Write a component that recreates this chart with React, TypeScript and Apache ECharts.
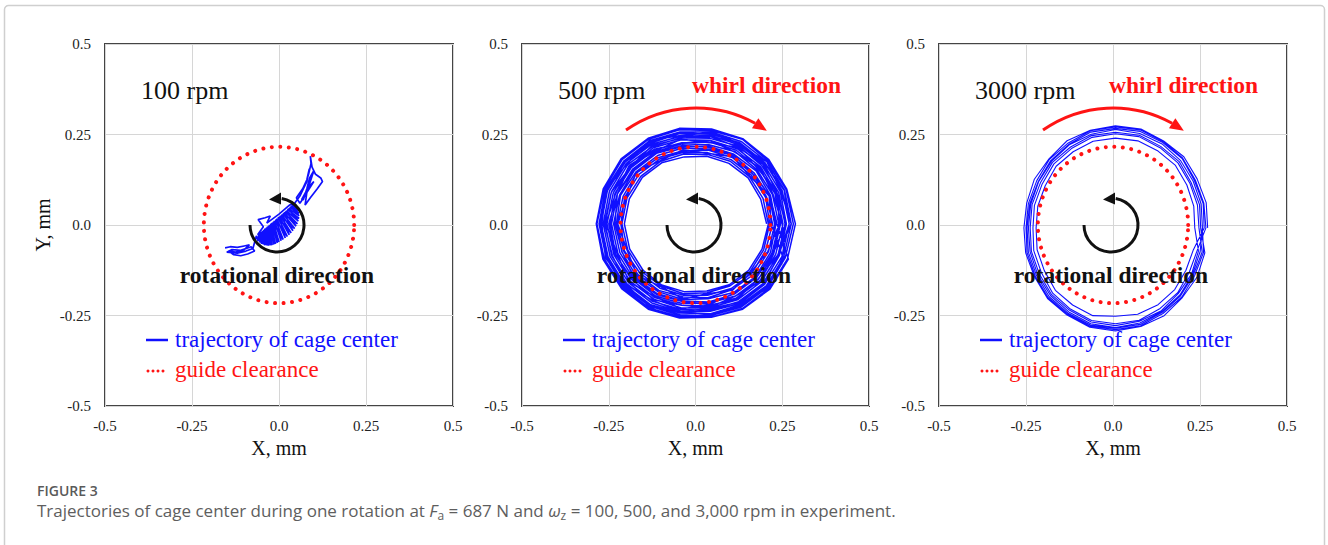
import React, { useEffect, useRef } from 'react';
import * as echarts from 'echarts';

// ---------------- data ----------------
const AXIS_TICKS = [-0.5, -0.25, 0, 0.25, 0.5];
const SPEED_LABELS = ['100 rpm', '500 rpm', '3000 rpm'];
const CLEARANCE_RADIUS = 0.216; // guide clearance, mm

// 100 rpm: trajectory of cage center, [x, y] in mm
const TRAJ_100_TAIL: number[][] = [
  [-0.155, -0.063], [-0.14, -0.06], [-0.12, -0.062], [-0.1, -0.058], [-0.085, -0.055],
  [-0.1, -0.068], [-0.125, -0.075], [-0.145, -0.072], [-0.13, -0.082], [-0.11, -0.085],
  [-0.09, -0.08], [-0.07, -0.072], [-0.08, -0.06], [-0.11, -0.07], [-0.135, -0.068],
  [-0.15, -0.075], [-0.12, -0.078], [-0.095, -0.072], [-0.075, -0.065], [-0.065, -0.03],
];
const TRAJ_100_BODY: number[][] = [
  [-0.065, -0.03], [-0.06, -0.045], [-0.058, -0.024], [-0.05, -0.052], [-0.051, -0.019],
  [-0.04, -0.056], [-0.044, -0.013], [-0.03, -0.057], [-0.037, -0.0075], [-0.02, -0.056],
  [-0.031, -0.002], [-0.01, -0.052], [-0.024, 0.004], [0.0, -0.047], [-0.017, 0.009],
  [0.012, -0.04], [-0.01, 0.015], [0.024, -0.032], [-0.003, 0.021], [0.035, -0.022],
  [0.004, 0.026], [0.045, -0.01], [0.011, 0.032], [0.053, 0.003], [0.018, 0.0375],
  [0.058, 0.018], [0.024, 0.043], [0.058, 0.033], [0.031, 0.049], [0.052, 0.048],
  [0.038, 0.054], [0.045, 0.06],
  [0.055, 0.0405], [0.0345, 0.0515], [0.058, 0.0255], [0.0275, 0.046], [0.0555, 0.0105],
  [0.021, 0.04], [0.049, -0.0035], [0.0145, 0.035], [0.04, -0.016], [0.0075, 0.029],
  [0.0295, -0.027], [0.0005, 0.0235], [0.018, -0.036], [-0.0065, 0.018], [0.006, -0.0435],
  [-0.0135, 0.012], [-0.005, -0.0495], [-0.0205, 0.0065], [-0.015, -0.054], [-0.0275, 0.001],
  [-0.025, -0.0565], [-0.034, -0.005], [-0.035, -0.0565], [-0.0405, -0.01], [-0.045, -0.054],
  [-0.0475, -0.016], [-0.055, -0.0485], [-0.0545, -0.0215], [-0.0615, -0.027],
  [-0.045, -0.005], [-0.06, 0.015], [-0.04, 0.02], [-0.025, 0.025], [-0.035, 0.005],
  [0.0, 0.03], [0.03, 0.055],
];
const TRAJ_100_ARM: number[][] = [
  [0.045, 0.06], [0.06, 0.08], [0.075, 0.11], [0.085, 0.14], [0.092, 0.17], [0.09, 0.19],
  [0.095, 0.16], [0.105, 0.14], [0.12, 0.13], [0.125, 0.12], [0.11, 0.1], [0.09, 0.075],
  [0.075, 0.055], [0.08, 0.09], [0.1, 0.12], [0.085, 0.105], [0.065, 0.07], [0.07, 0.07],
  [0.08, 0.1], [0.088, 0.13], [0.1, 0.15], [0.09, 0.12], [0.078, 0.085], [0.06, 0.06],
  [0.05, 0.075], [0.068, 0.1], [0.08, 0.125], [0.087, 0.155], [0.08, 0.12], [0.065, 0.09],
];

// 500 rpm: loops read as radius (mm) at fixed polar angles (deg) around the loop centre
const ANGLES_500 = [0, 20, 40, 60, 80, 100, 120, 140, 160, 180, 200, 220, 240, 260, 280, 300, 320, 340];
const CENTER_500 = [0.0, 0.003];
const LOOPS_500: number[][] = [
  [0.205, 0.2, 0.198, 0.193, 0.19, 0.188, 0.195, 0.2, 0.203, 0.205, 0.202, 0.198, 0.195, 0.19, 0.188, 0.194, 0.2, 0.204],
  [0.21, 0.207, 0.203, 0.2, 0.195, 0.196, 0.2, 0.205, 0.21, 0.212, 0.208, 0.204, 0.198, 0.196, 0.193, 0.198, 0.205, 0.209],
  [0.214, 0.215, 0.21, 0.205, 0.2, 0.201, 0.207, 0.213, 0.217, 0.215, 0.218, 0.21, 0.205, 0.2, 0.2, 0.206, 0.212, 0.215],
  [0.222, 0.218, 0.215, 0.212, 0.207, 0.205, 0.212, 0.22, 0.222, 0.225, 0.22, 0.217, 0.212, 0.205, 0.207, 0.21, 0.218, 0.224],
  [0.228, 0.226, 0.22, 0.218, 0.21, 0.213, 0.218, 0.224, 0.23, 0.228, 0.226, 0.223, 0.216, 0.212, 0.21, 0.219, 0.226, 0.23],
  [0.232, 0.23, 0.228, 0.222, 0.218, 0.217, 0.225, 0.23, 0.233, 0.236, 0.232, 0.228, 0.222, 0.216, 0.219, 0.224, 0.23, 0.235],
  [0.24, 0.236, 0.232, 0.23, 0.222, 0.225, 0.23, 0.236, 0.24, 0.242, 0.238, 0.234, 0.23, 0.223, 0.222, 0.23, 0.237, 0.24],
  [0.245, 0.244, 0.238, 0.235, 0.23, 0.228, 0.236, 0.242, 0.247, 0.246, 0.245, 0.24, 0.235, 0.228, 0.23, 0.236, 0.243, 0.246],
  [0.252, 0.248, 0.245, 0.24, 0.235, 0.236, 0.243, 0.247, 0.252, 0.255, 0.25, 0.246, 0.24, 0.236, 0.235, 0.242, 0.248, 0.253],
  [0.258, 0.255, 0.25, 0.248, 0.24, 0.242, 0.247, 0.255, 0.258, 0.26, 0.257, 0.252, 0.247, 0.24, 0.242, 0.248, 0.255, 0.257],
  [0.262, 0.26, 0.257, 0.252, 0.248, 0.246, 0.254, 0.26, 0.264, 0.266, 0.262, 0.258, 0.252, 0.247, 0.245, 0.254, 0.26, 0.265],
  [0.27, 0.266, 0.262, 0.258, 0.252, 0.254, 0.258, 0.265, 0.27, 0.272, 0.268, 0.264, 0.258, 0.25, 0.252, 0.258, 0.266, 0.27],
  [0.276, 0.273, 0.268, 0.263, 0.258, 0.258, 0.265, 0.27, 0.276, 0.278, 0.274, 0.27, 0.263, 0.256, 0.257, 0.265, 0.272, 0.275],
  [0.282, 0.278, 0.272, 0.27, 0.262, 0.264, 0.27, 0.276, 0.28, 0.284, 0.28, 0.274, 0.268, 0.26, 0.262, 0.27, 0.277, 0.282],
  [0.288, 0.28, 0.276, 0.272, 0.266, 0.268, 0.273, 0.28, 0.283, 0.286, 0.284, 0.278, 0.272, 0.264, 0.262, 0.272, 0.28, 0.285],
  [0.235, 0.228, 0.215, 0.22, 0.215, 0.22, 0.226, 0.232, 0.24, 0.232, 0.225, 0.232, 0.225, 0.218, 0.226, 0.222, 0.23, 0.238],
  [0.26, 0.25, 0.255, 0.245, 0.245, 0.24, 0.25, 0.245, 0.258, 0.262, 0.255, 0.26, 0.245, 0.245, 0.238, 0.25, 0.258, 0.255],
  [0.27, 0.272, 0.26, 0.255, 0.26, 0.255, 0.262, 0.268, 0.272, 0.275, 0.27, 0.268, 0.26, 0.255, 0.258, 0.262, 0.27, 0.272],
  [0.25, 0.238, 0.242, 0.228, 0.235, 0.226, 0.238, 0.25, 0.245, 0.258, 0.24, 0.25, 0.232, 0.238, 0.228, 0.24, 0.236, 0.252],
  [0.276, 0.262, 0.268, 0.25, 0.256, 0.248, 0.266, 0.258, 0.274, 0.27, 0.276, 0.26, 0.265, 0.248, 0.254, 0.258, 0.274, 0.268],
  [0.218, 0.226, 0.205, 0.214, 0.198, 0.208, 0.202, 0.222, 0.212, 0.224, 0.21, 0.22, 0.2, 0.21, 0.196, 0.212, 0.208, 0.222],
  [0.242, 0.25, 0.236, 0.244, 0.228, 0.238, 0.232, 0.248, 0.24, 0.25, 0.246, 0.238, 0.242, 0.228, 0.234, 0.23, 0.246, 0.24],
];

// 3000 rpm: loops read as radius (mm) at fixed polar angles (deg)
const ANGLES_3000 = [0, 15, 30, 45, 60, 75, 90, 105, 120, 135, 150, 165, 180, 195, 210, 225, 240, 255, 270, 285, 300, 315, 330, 345];
const CENTER_3000 = [0.007, -0.008];
const LOOPS_3000: number[][] = [
  [0.265, 0.27, 0.271, 0.278, 0.277, 0.283, 0.282, 0.279, 0.278, 0.27, 0.269, 0.264, 0.263, 0.267, 0.269, 0.276, 0.278, 0.284, 0.285, 0.282, 0.28, 0.272, 0.271, 0.266],
  [0.245, 0.25, 0.251, 0.259, 0.26, 0.265, 0.264, 0.264, 0.258, 0.256, 0.249, 0.248, 0.245, 0.25, 0.253, 0.26, 0.263, 0.269, 0.27, 0.267, 0.264, 0.256, 0.253, 0.247],
  [0.228, 0.233, 0.237, 0.244, 0.245, 0.249, 0.248, 0.248, 0.243, 0.241, 0.233, 0.231, 0.228, 0.233, 0.236, 0.244, 0.246, 0.251, 0.244, 0.247, 0.245, 0.241, 0.234, 0.232],
  [0.255, 0.261, 0.262, 0.271, 0.272, 0.276, 0.275, 0.274, 0.267, 0.263, 0.256, 0.255, 0.254, 0.259, 0.262, 0.269, 0.272, 0.278, 0.277, 0.276, 0.269, 0.265, 0.259, 0.258],
  [0.24, 0.244, 0.247, 0.254, 0.256, 0.261, 0.26, 0.259, 0.253, 0.25, 0.243, 0.241, 0.237, 0.243, 0.246, 0.255, 0.259, 0.265, 0.265, 0.264, 0.257, 0.253, 0.245, 0.243],
  [0.26, 0.263, 0.265, 0.273, 0.275, 0.28, 0.279, 0.278, 0.271, 0.268, 0.261, 0.259, 0.257, 0.263, 0.266, 0.273, 0.275, 0.281, 0.281, 0.28, 0.273, 0.27, 0.263, 0.262],
  [0.25, 0.255, 0.258, 0.264, 0.268, 0.27, 0.272, 0.268, 0.265, 0.26, 0.255, 0.252, 0.25, 0.254, 0.258, 0.264, 0.268, 0.274, 0.275, 0.272, 0.267, 0.262, 0.256, 0.252],
];

// ---------------- helpers ----------------
const SERIF = '"Liberation Serif", "Times New Roman", Times, serif';
const SANS = '"Open Sans", "Noto Sans", Lato, sans-serif';
const BLUE = '#1010ff';
const RED = '#ff1414';

function loopsToPoints(angles: number[], loops: number[][], center: number[]): number[][] {
  const pts: number[][] = [];
  loops.forEach((radii) => {
    radii.forEach((r, k) => {
      const a = (angles[k] * Math.PI) / 180;
      pts.push([center[0] + r * Math.cos(a), center[1] + r * Math.sin(a)]);
    });
  });
  const last = loops[loops.length - 1];
  pts.push([center[0] + last[0], center[1]]);
  return pts;
}

function clearanceCircle(): number[][] {
  const pts: number[][] = [];
  for (let d = 0; d <= 360; d += 2) {
    const a = (d * Math.PI) / 180;
    pts.push([CLEARANCE_RADIUS * Math.cos(a), CLEARANCE_RADIUS * Math.sin(a)]);
  }
  return pts;
}

const GRIDS = [
  { left: 105, top: 44, width: 348, height: 362 },
  { left: 522, top: 44, width: 347, height: 362 },
  { left: 939, top: 44, width: 348, height: 362 },
];

const deg = (d: number) => (d * Math.PI) / 180;

function panelGraphics(i: number): any[] {
  const L = GRIDS[i].left;
  const items: any[] = [];
  items.push({
    type: 'text', x: L + 36, y: 90, z: 100,
    style: { text: SPEED_LABELS[i], font: `26px ${SERIF}`, fill: '#111', verticalAlign: 'middle' },
  });
  if (i > 0) {
    items.push({
      type: 'text', x: L + 170, y: 85, z: 100,
      style: { text: 'whirl direction', font: `bold 23.5px ${SERIF}`, fill: RED, verticalAlign: 'middle' },
    });
    const rcx = L + 174, rcy = 230, rr = 122;
    items.push({
      type: 'arc', z: 100,
      shape: { cx: rcx, cy: rcy, r: rr, startAngle: deg(235), endAngle: deg(299), clockwise: true },
      style: { stroke: RED, lineWidth: 3, fill: null },
    });
    const tip = [rcx + rr * Math.cos(deg(305.5)), rcy + rr * Math.sin(deg(305.5))];
    const base = [rcx + rr * Math.cos(deg(299)), rcy + rr * Math.sin(deg(299))];
    const tx = tip[0] - base[0], ty = tip[1] - base[1];
    const len = Math.hypot(tx, ty);
    const nx = -ty / len, ny = tx / len;
    items.push({
      type: 'polygon', z: 100,
      shape: { points: [tip, [base[0] + 6 * nx, base[1] + 6 * ny], [base[0] - 6 * nx, base[1] - 6 * ny]] },
      style: { fill: RED },
    });
  }
  // rotational direction arrow
  const cx = L + 172, cy = 225;
  items.push({
    type: 'arc', z: 100,
    shape: { cx, cy, r: 27, startAngle: deg(280), endAngle: deg(540), clockwise: true },
    style: { stroke: '#111', lineWidth: 3, fill: null },
  });
  items.push({
    type: 'polygon', z: 100,
    shape: { points: [[cx - 8, cy - 25.5], [cx + 4, cy - 32.5], [cx + 4, cy - 20.5]] },
    style: { fill: '#111' },
  });
  items.push({
    type: 'text', x: L + 172, y: 275, z: 100,
    style: { text: 'rotational direction', font: `bold 23.5px ${SERIF}`, fill: '#111', align: 'center', verticalAlign: 'middle' },
  });
  // legend
  items.push({
    type: 'line', z: 100,
    shape: { x1: L + 41, y1: 340, x2: L + 63, y2: 340 },
    style: { stroke: BLUE, lineWidth: 2.5 },
  });
  items.push({
    type: 'text', x: L + 70, y: 339, z: 100,
    style: { text: 'trajectory of cage center', font: `23px ${SERIF}`, fill: BLUE, verticalAlign: 'middle' },
  });
  [0, 5, 10, 15].forEach((dx) => {
    items.push({ type: 'circle', z: 100, shape: { cx: L + 43 + dx, cy: 371, r: 1.5 }, style: { fill: RED } });
  });
  items.push({
    type: 'text', x: L + 70, y: 369, z: 100,
    style: { text: 'guide clearance', font: `23px ${SERIF}`, fill: RED, verticalAlign: 'middle' },
  });
  return items;
}

export default function App() {
  const ref = useRef<HTMLDivElement>(null);
  useEffect(() => {
    if (!ref.current) return;
    const chart = echarts.init(ref.current, null, { renderer: 'svg' });
    const trajectories = [
      [...TRAJ_100_TAIL, ...TRAJ_100_BODY, ...TRAJ_100_ARM],
      loopsToPoints(ANGLES_500, LOOPS_500, CENTER_500),
      loopsToPoints(ANGLES_3000, LOOPS_3000, CENTER_3000),
    ];
    const circle = clearanceCircle();
    const fmt = (v: number) => (v === 0 ? '0.0' : String(v));
    const axisLabel = { fontFamily: 'Liberation Serif', fontSize: 15, color: '#222' };
    const splitLine = { show: true, lineStyle: { color: '#d6d6d6', width: 1 } };

    const option: any = {
      animation: false,
      backgroundColor: '#fff',
      grid: GRIDS.map((g) => ({ ...g, show: true, borderColor: '#444', borderWidth: 2, backgroundColor: 'transparent' })),
      xAxis: GRIDS.map((_, i) => ({
        type: 'value', gridIndex: i, min: AXIS_TICKS[0], max: AXIS_TICKS[AXIS_TICKS.length - 1], interval: 0.25,
        axisLine: { show: false }, axisTick: { show: false }, splitLine,
        axisLabel: { ...axisLabel, margin: 12, formatter: fmt },
        name: 'X, mm', nameLocation: 'middle', nameGap: 25,
        nameTextStyle: { fontFamily: 'Liberation Serif', fontSize: 20, color: '#111' },
      })),
      yAxis: GRIDS.map((_, i) => ({
        type: 'value', gridIndex: i, min: AXIS_TICKS[0], max: AXIS_TICKS[AXIS_TICKS.length - 1], interval: 0.25,
        axisLine: { show: false }, axisTick: { show: false }, splitLine,
        axisLabel: { ...axisLabel, margin: 14, formatter: fmt },
        name: i === 0 ? 'Y, mm' : '', nameLocation: 'middle', nameGap: 52,
        nameTextStyle: { fontFamily: 'Liberation Serif', fontSize: 20, color: '#111' },
      })),
      series: [
        ...trajectories.map((data, i) => ({
          type: 'line', name: 'trajectory of cage center', xAxisIndex: i, yAxisIndex: i,
          data, showSymbol: false, smooth: false, z: 2,
          lineStyle: { color: BLUE, width: i === 0 ? 1.7 : i === 1 ? 1.5 : 1.1 },
        })),
        ...GRIDS.map((_, i) => ({
          type: 'line', name: 'guide clearance', xAxisIndex: i, yAxisIndex: i,
          data: circle, showSymbol: false, smooth: false, z: 3,
          lineStyle: { color: RED, width: 4, type: [0.01, 8.5], cap: 'round' },
        })),
      ],
      graphic: [
        {
          type: 'rect', z: -10, silent: true,
          shape: { x: 4.5, y: 5.5, width: 1320, height: 580, r: 4 },
          style: { stroke: '#cfcfcf', lineWidth: 1.5, fill: null },
        },
        ...panelGraphics(0), ...panelGraphics(1), ...panelGraphics(2),
        {
          type: 'text', x: 37, y: 490, z: 100,
          style: { text: 'FIGURE 3', font: `600 14px ${SANS}`, fill: '#5a5a5a', verticalAlign: 'middle', lineHeight: 16 },
        },
        {
          type: 'text', x: 37, y: 510, z: 100,
          style: {
            text: 'Trajectories of cage center during one rotation at {it|F}{sub|a} = 687 N and {it|ω}{sub|z} = 100, 500, and 3,000 rpm in experiment.',
            font: `17px ${SANS}`, fill: '#5e5e5e', verticalAlign: 'middle', lineHeight: 22,
            rich: {
              it: { fontStyle: 'italic', fontSize: 17, fontFamily: SANS, fill: '#5e5e5e', lineHeight: 22 },
              sub: { fontSize: 12, fontFamily: SANS, fill: '#5e5e5e', verticalAlign: 'bottom', lineHeight: 12 },
            },
          },
        },
      ],
    };
    chart.setOption(option);
    return () => chart.dispose();
  }, []);
  return <div ref={ref} style={{ position: 'fixed', left: 0, top: 0, width: 1328, height: 545, background: '#fff' }} />;
}
